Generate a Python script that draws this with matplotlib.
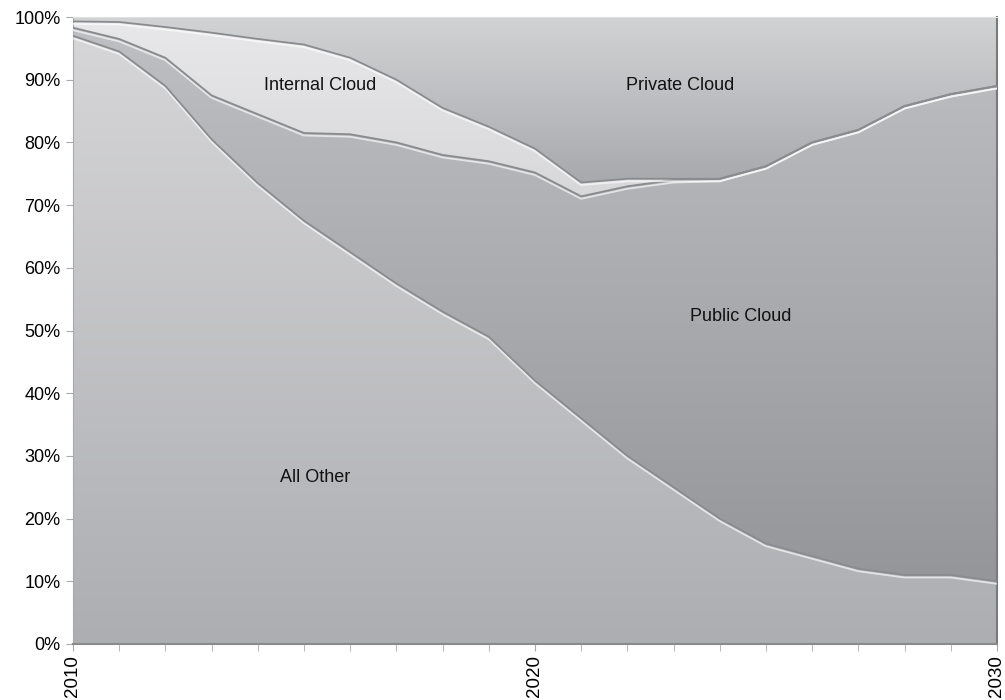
# cloud_share_area.py

import numpy as np
import matplotlib.pyplot as plt
import matplotlib.patheffects as pe
from matplotlib.colors import LinearSegmentedColormap

plt.rcParams['font.family'] = ['Liberation Sans', 'DejaVu Sans']

# --- Data (share of workloads, %) ---
years = list(range(2010, 2031))
all_other = [97, 94.5, 89, 80.5, 73.5, 67.5, 62.5, 57.5, 53, 49, 42,
             36, 30, 25, 20, 16, 14, 12, 11, 11, 10]
public_cloud = [1.3, 2.0, 4.5, 7.0, 11.0, 14.0, 18.8, 22.5, 25.0, 28.0, 33.2,
                35.4, 43.0, 49.0, 54.2, 60.2, 66.0, 70.0, 74.8, 76.7, 79.0]
internal_cloud = [1.0, 2.7, 4.9, 10.0, 12.0, 14.1, 12.2, 10.0, 7.5, 5.5, 3.8,
                  2.2, 1.2, 0.2, 0, 0, 0, 0, 0, 0, 0]
private_cloud = [0.7, 0.8, 1.6, 2.5, 3.5, 4.4, 6.5, 10.0, 14.5, 17.5, 21.0,
                 26.4, 25.8, 25.8, 25.8, 23.8, 20.0, 18.0, 14.2, 12.3, 11.0]

series = [
    ("All Other", all_other, "#d6d6d8", "#adaeb2"),
    ("Public Cloud", public_cloud, "#bebfc2", "#95969a"),
    ("Internal Cloud", internal_cloud, "#e8e8ea", "#d8d8da"),
    ("Private Cloud", private_cloud, "#d2d3d5", "#a8a9ad"),
]

labels = [
    ("Internal Cloud", 2015.35, 89.0),
    ("Private Cloud", 2023.15, 89.0),
    ("Public Cloud", 2024.45, 52.3),
    ("All Other", 2015.25, 26.6),
]

x = np.array(years, dtype=float)

fig = plt.figure(figsize=(10.05, 7.0), dpi=100)
ax = fig.add_axes([0.0726, 0.0800, 0.9194, 0.8957])

# --- Stacked areas with vertical gradients ---
bottom = np.zeros(len(years))
for name, vals, c_top, c_bot in series:
    top = bottom + np.array(vals)
    poly = ax.fill_between(x, bottom, top, color="none", linewidth=0)
    lo, hi = bottom.min(), top.max()
    cmap = LinearSegmentedColormap.from_list(name, [c_bot, c_top])
    grad = np.linspace(0, 1, 256).reshape(-1, 1)
    img = ax.imshow(grad, cmap=cmap, aspect="auto", origin="lower",
                    extent=[2010, 2030, lo, hi], zorder=1)
    img.set_clip_path(poly.get_paths()[0], transform=ax.transData)
    bottom = top

# --- Embossed boundary lines ---
cum = np.zeros(len(years))
for name, vals, c_top, c_bot in series[:-1]:
    cum = cum + np.array(vals)
    ax.plot(x, cum, color="#8a8b8f", linewidth=1.3, zorder=3,
            path_effects=[pe.SimpleLineShadow(offset=(0, -1.8), shadow_color="white", alpha=0.65),
                          pe.Normal()])

for text, lx, ly in labels:
    ax.text(lx, ly, text, ha="center", va="center", fontsize=13, color="#111111", zorder=5)

# --- Axes formatting ---
ax.set_xlim(2010, 2030)
ax.set_ylim(0, 100)
ax.set_yticks(range(0, 101, 10))
ax.set_yticklabels([f"{v}%" for v in range(0, 101, 10)], fontsize=13)
ax.set_xticks([2010, 2020, 2030])
ax.set_xticklabels(["2010", "2020", "2030"], rotation=90, fontsize=13.5)
ax.set_xticks(years, minor=True)
ax.tick_params(axis="both", which="both", length=5, color="#aaaaaa", direction="out")
ax.tick_params(axis="x", pad=3)
ax.tick_params(axis="y", pad=4)

ax.spines["left"].set_color("#aaaaaa")
ax.spines["bottom"].set_color("#8a8a8a")
ax.spines["bottom"].set_linewidth(1.5)
ax.spines["right"].set_color("#7a7a7a")
ax.spines["right"].set_linewidth(1.5)
ax.spines["top"].set_color("#e0e0e0")

fig.savefig("out.png", dpi=100)
